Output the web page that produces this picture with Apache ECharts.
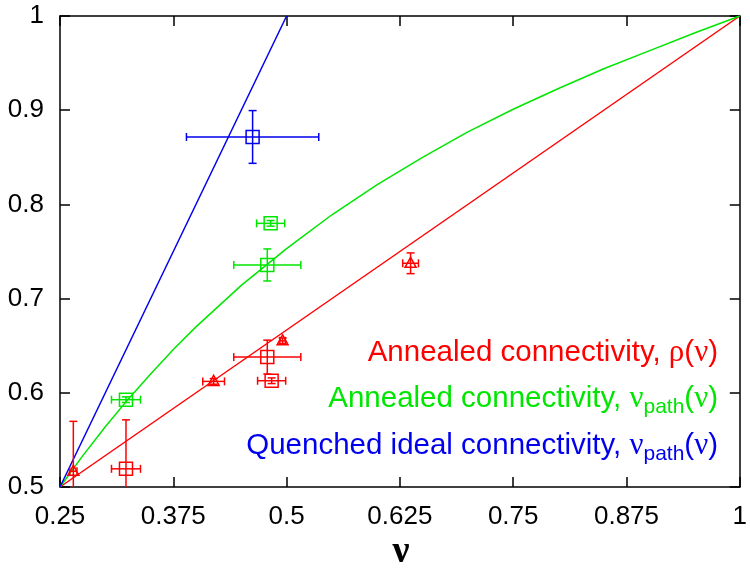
<!DOCTYPE html>
<html><head><meta charset="utf-8">
<script src="https://cdn.jsdelivr.net/npm/echarts@6/dist/echarts.min.js"></script>
<style>html,body{margin:0;padding:0;background:#fff}#c{width:750px;height:571px}</style>
</head><body><div id="c"></div>
<script>
// ---- tick labels ----
const xTickLabels = ['0.25', '0.375', '0.5', '0.625', '0.75', '0.875', '1'];
const yTickLabels = ['0.5', '0.6', '0.7', '0.8', '0.9', '1'];

// ---- theory curves ----
const redLineX = [0.25, 1];
const redLineY = [0.5, 1];
const blueLineX = [0.25, 0.5];
const blueLineY = [0.5, 1];
const greenCurveX = [0.25, 0.275, 0.3, 0.325, 0.35, 0.375, 0.4, 0.45, 0.5, 0.55, 0.6, 0.65, 0.7, 0.75, 0.8, 0.85, 0.9, 0.95, 1];
const greenCurveY = [0.5, 0.533, 0.564, 0.593, 0.62, 0.646, 0.67, 0.714, 0.753, 0.789, 0.821, 0.85, 0.877, 0.901, 0.923, 0.944, 0.963, 0.982, 1];

// ---- measured points with error bars ----
const blueSqX = [0.4625];
const blueSqY = [0.8716];
const blueSqXErr = [0.073];
const blueSqYErr = [0.028];

const greenSqX = [0.4824, 0.4787, 0.3228];
const greenSqY = [0.7799, 0.7357, 0.5927];
const greenSqXErr = [0.0155, 0.037, 0.016];
const greenSqYErr = [0.003, 0.017, 0.003];

const redSqX = [0.3228, 0.4787, 0.4835];
const redSqY = [0.5193, 0.6379, 0.6128];
const redSqXErr = [0.016, 0.037, 0.0155];
const redSqYErr = [0.052, 0.018, 0.003];

const redTriX = [0.2647, 0.4195, 0.4956, 0.6368];
const redTriY = [0.5167, 0.6121, 0.6552, 0.7375];
const redTriXErr = [0.004, 0.012, 0.003, 0.0087];
const redTriYErr = [0.053, 0.003, 0.003, 0.011];

const RED = '#ff0000', GREEN = '#00e600', BLUE = '#0000ee';

function zip(xs, ys) { return xs.map((x, i) => [x, ys[i]]); }

function errSeries(name, xs, ys, xe, ye, color, shape) {
  const data = xs.map((x, i) => [x, ys[i], xe[i], ye[i]]);
  return {
    type: 'custom', name: name, data: data, clip: true, z: 5,
    renderItem: function (params, api) {
      const x = api.value(0), y = api.value(1), dx = api.value(2), dy = api.value(3);
      const c = api.coord([x, y]);
      const l = api.coord([x - dx, y]), r = api.coord([x + dx, y]);
      const t = api.coord([x, y + dy]), b = api.coord([x, y - dy]);
      const cap = 4;
      const st = { stroke: color, lineWidth: 1.5, fill: null };
      const ch = [
        { type: 'line', shape: { x1: l[0], y1: l[1], x2: r[0], y2: r[1] }, style: st },
        { type: 'line', shape: { x1: l[0], y1: l[1] - cap, x2: l[0], y2: l[1] + cap }, style: st },
        { type: 'line', shape: { x1: r[0], y1: r[1] - cap, x2: r[0], y2: r[1] + cap }, style: st },
        { type: 'line', shape: { x1: t[0], y1: t[1], x2: b[0], y2: b[1] }, style: st },
        { type: 'line', shape: { x1: t[0] - cap, y1: t[1], x2: t[0] + cap, y2: t[1] }, style: st },
        { type: 'line', shape: { x1: b[0] - cap, y1: b[1], x2: b[0] + cap, y2: b[1] }, style: st }
      ];
      if (shape === 'rect') {
        ch.push({ type: 'rect', shape: { x: c[0] - 6.5, y: c[1] - 6.5, width: 13, height: 13 },
          style: { stroke: color, fill: null, lineWidth: 1.5 } });
      } else {
        ch.push({ type: 'polygon', shape: { points: [[c[0], c[1] - 6], [c[0] - 5.5, c[1] + 4], [c[0] + 5.5, c[1] + 4]] },
          style: { stroke: color, fill: null, lineWidth: 1.5 } });
      }
      return { type: 'group', children: ch };
    }
  };
}

function lineSeries(xs, ys, color) {
  return { type: 'line', data: zip(xs, ys), showSymbol: false, symbol: 'none', clip: true, z: 3,
    smooth: false,
    lineStyle: { color: color, width: 1.5 }, itemStyle: { color: color }, animation: false };
}

const axisCommon = {
  axisLine: { show: true, onZero: false, lineStyle: { color: '#000', width: 1.5 } },
  axisTick: { show: true, inside: true, length: 10, lineStyle: { color: '#000', width: 1.5 } },
  splitLine: { show: false }
};

const labelFont = { fontSize: 26, color: '#000', fontFamily: 'Liberation Sans, Arial, sans-serif' };

const chart = echarts.init(document.getElementById('c'), null, { renderer: 'canvas' });
chart.setOption({
  animation: false,
  backgroundColor: '#fff',
  grid: { left: 60, right: 10, top: 16, bottom: 84, containLabel: false },
  xAxis: [
    Object.assign({ type: 'value', min: 0.25, max: 1, interval: 0.125, position: 'bottom',
      axisLabel: Object.assign({ margin: 17, showMinLabel: true, showMaxLabel: true,
        formatter: v => xTickLabels[Math.round((v - 0.25) / 0.125)] }, labelFont) }, axisCommon),
    Object.assign({ type: 'value', min: 0.25, max: 1, interval: 0.125, position: 'top',
      axisLabel: { show: false } }, axisCommon)
  ],
  yAxis: [
    Object.assign({ type: 'value', min: 0.5, max: 1, interval: 0.1, position: 'left',
      axisLabel: Object.assign({ margin: 16, showMinLabel: true, showMaxLabel: true,
        formatter: v => yTickLabels[Math.round((v - 0.5) / 0.1)] }, labelFont) }, axisCommon),
    Object.assign({ type: 'value', min: 0.5, max: 1, interval: 0.1, position: 'right',
      axisLabel: { show: false } }, axisCommon)
  ],
  series: [
    lineSeries(redLineX, redLineY, RED),
    lineSeries(greenCurveX, greenCurveY, GREEN),
    lineSeries(blueLineX, blueLineY, BLUE),
    errSeries('blue', blueSqX, blueSqY, blueSqXErr, blueSqYErr, BLUE, 'rect'),
    errSeries('green', greenSqX, greenSqY, greenSqXErr, greenSqYErr, GREEN, 'rect'),
    errSeries('redSq', redSqX, redSqY, redSqXErr, redSqYErr, RED, 'rect'),
    errSeries('redTri', redTriX, redTriY, redTriXErr, redTriYErr, RED, 'tri')
  ],
  graphic: [
    { type: 'text', x: 718, y: 353, z: 10, style: {
      text: 'Annealed connectivity, {g|ρ}({g|ν})', align: 'right', verticalAlign: 'middle',
      fill: RED, font: '29.5px "Liberation Sans", Arial, sans-serif',
      rich: { g: { fontFamily: 'Liberation Serif', fontSize: 31, fill: RED } } } },
    { type: 'text', x: 718, y: 399, z: 10, style: {
      text: 'Annealed connectivity, {g|ν}{s|path}({g|ν})', align: 'right', verticalAlign: 'middle',
      fill: GREEN, font: '29.5px "Liberation Sans", Arial, sans-serif',
      rich: { g: { fontFamily: 'Liberation Serif', fontSize: 31, fill: GREEN },
              s: { fontSize: 21, fill: GREEN, padding: [16, 0, 0, 0] } } } },
    { type: 'text', x: 718, y: 446, z: 10, style: {
      text: 'Quenched ideal connectivity, {g|ν}{s|path}({g|ν})', align: 'right', verticalAlign: 'middle',
      fill: BLUE, font: '29.5px "Liberation Sans", Arial, sans-serif',
      rich: { g: { fontFamily: 'Liberation Serif', fontSize: 31, fill: BLUE },
              s: { fontSize: 21, fill: BLUE, padding: [16, 0, 0, 0] } } } },
    { type: 'text', x: 401, y: 552, z: 10, style: {
      text: 'ν', align: 'center', verticalAlign: 'middle', fill: '#000',
      font: 'bold 38px "Liberation Serif", "DejaVu Serif", serif' } }
  ]
});
</script>
</body></html>
